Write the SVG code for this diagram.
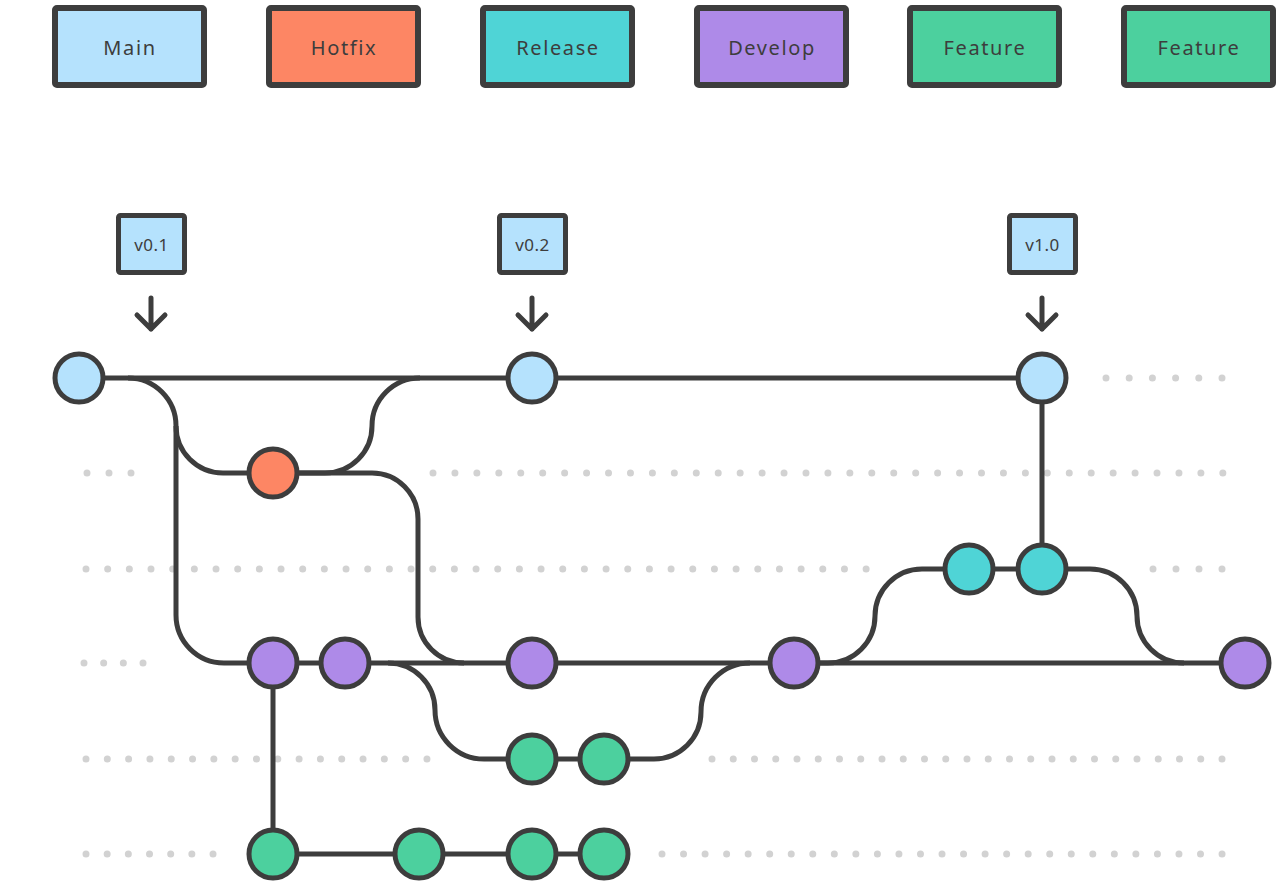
<svg xmlns="http://www.w3.org/2000/svg" width="1280" height="892" viewBox="0 0 1280 892">
<style>
.box{stroke:#3d3d3d;stroke-width:6;stroke-linejoin:round}
.tag{stroke:#3d3d3d;stroke-width:5;stroke-linejoin:round;fill:#b5e2fd}
.lbl{font-family:"Noto Sans","Liberation Sans",sans-serif;font-size:20px;fill:#3d3d3d;text-anchor:middle;letter-spacing:1.6px}
.tl{font-family:"Noto Sans","Liberation Sans",sans-serif;font-size:17px;fill:#3d3d3d;text-anchor:middle;letter-spacing:0.5px}
.c{stroke:#3d3d3d;stroke-width:5}
.ln{fill:none;stroke:#3d3d3d;stroke-width:5}
.arr{fill:none;stroke:#3d3d3d;stroke-width:5;stroke-linecap:round;stroke-linejoin:round}
.dot{stroke:#d2d2d2;stroke-width:7;stroke-linecap:round;fill:none}
.main{fill:#b5e2fd}.hot{fill:#fd8664}.rel{fill:#4fd4d6}.dev{fill:#ae8ae8}.feat{fill:#4cd09e}
</style>
<rect width="1280" height="892" fill="#ffffff"/>
<g id="legend">
<g id="legend-main"><rect class="box main" x="55" y="8" width="149" height="77" rx="2"/><text class="lbl" x="130" y="55">Main</text></g>
<g id="legend-hotfix"><rect class="box hot" x="269" y="8" width="149" height="77" rx="2"/><text class="lbl" x="344" y="55">Hotfix</text></g>
<g id="legend-release"><rect class="box rel" x="483" y="8" width="149" height="77" rx="2"/><text class="lbl" x="558" y="55">Release</text></g>
<g id="legend-develop"><rect class="box dev" x="697" y="8" width="149" height="77" rx="2"/><text class="lbl" x="772" y="55">Develop</text></g>
<g id="legend-feature1"><rect class="box feat" x="910" y="8" width="149" height="77" rx="2"/><text class="lbl" x="985" y="55">Feature</text></g>
<g id="legend-feature2"><rect class="box feat" x="1124" y="8" width="149" height="77" rx="2"/><text class="lbl" x="1199" y="55">Feature</text></g>
</g>
<g id="dots">
<line class="dot" x1="1106" y1="378" x2="1222.3" y2="378" stroke-dasharray="0 23.2"/>
<line class="dot" x1="87" y1="473" x2="131.3" y2="473" stroke-dasharray="0 22"/>
<line class="dot" x1="433" y1="473" x2="1223.3" y2="473" stroke-dasharray="0 21.94"/>
<line class="dot" x1="86" y1="569" x2="866.3" y2="569" stroke-dasharray="0 21.67"/>
<line class="dot" x1="1153" y1="569" x2="1222.3" y2="569" stroke-dasharray="0 23"/>
<line class="dot" x1="84" y1="663" x2="143.3" y2="663" stroke-dasharray="0 19.67"/>
<line class="dot" x1="86" y1="759" x2="427.3" y2="759" stroke-dasharray="0 21.31"/>
<line class="dot" x1="712" y1="759" x2="1222.3" y2="759" stroke-dasharray="0 21.25"/>
<line class="dot" x1="86" y1="854" x2="213.3" y2="854" stroke-dasharray="0 21.17"/>
<line class="dot" x1="662" y1="854" x2="1222.3" y2="854" stroke-dasharray="0 21.54"/>
</g>
<g id="tags">
<g id="tag-v01"><rect class="tag" x="118.5" y="215.5" width="66" height="57" rx="2"/><text class="tl" x="151.5" y="251">v0.1</text><path class="arr" d="M151 298 V329 M137 315 L151 329 L165 315"/></g>
<g id="tag-v02"><rect class="tag" x="499.5" y="215.5" width="66" height="57" rx="2"/><text class="tl" x="532.5" y="251">v0.2</text><path class="arr" d="M532 298 V329 M518 315 L532 329 L546 315"/></g>
<g id="tag-v10"><rect class="tag" x="1009.5" y="215.5" width="66" height="57" rx="2"/><text class="tl" x="1042.5" y="251">v1.0</text><path class="arr" d="M1042 298 V329 M1028 315 L1042 329 L1056 315"/></g>
</g>
<g id="connectors">
<path class="ln" d="M79 378 H1042"/>
<path class="ln" d="M128 378 A48 48 0 0 1 176 426 V615 A48 48 0 0 0 224 663 H1245"/>
<path class="ln" d="M176 426 A47 47 0 0 0 223 473 H273"/>
<path class="ln" d="M273 473 H325 A47 47 0 0 0 372 426 A48 48 0 0 1 420 378"/>
<path class="ln" d="M273 473 H372 A46 46 0 0 1 418 519 V617 A46 46 0 0 0 464 663"/>
<path class="ln" d="M273 663 V854 H604"/>
<path class="ln" d="M388 663 A47 47 0 0 1 435 710 A49 49 0 0 0 484 759 H604 H654 A47 47 0 0 0 701 712 A49 49 0 0 1 750 663"/>
<path class="ln" d="M794 663 H828 A47 47 0 0 0 875 616 A47 47 0 0 1 922 569 H1090 A47 47 0 0 1 1137 616 A47 47 0 0 0 1184 663"/>
<path class="ln" d="M1042 569 V378"/>
</g>
<g id="nodes">
<g id="main-1"><circle class="c main" cx="79" cy="378" r="24"/></g>
<g id="main-2"><circle class="c main" cx="532" cy="378" r="24"/></g>
<g id="main-3"><circle class="c main" cx="1042" cy="378" r="24"/></g>
<g id="hotfix-1"><circle class="c hot" cx="273" cy="473" r="24"/></g>
<g id="release-1"><circle class="c rel" cx="969" cy="569" r="24"/></g>
<g id="release-2"><circle class="c rel" cx="1042" cy="569" r="24"/></g>
<g id="develop-1"><circle class="c dev" cx="273" cy="663" r="24"/></g>
<g id="develop-2"><circle class="c dev" cx="345" cy="663" r="24"/></g>
<g id="develop-3"><circle class="c dev" cx="532" cy="663" r="24"/></g>
<g id="develop-4"><circle class="c dev" cx="794" cy="663" r="24"/></g>
<g id="develop-5"><circle class="c dev" cx="1245" cy="663" r="24"/></g>
<g id="feature1-1"><circle class="c feat" cx="532" cy="759" r="24"/></g>
<g id="feature1-2"><circle class="c feat" cx="604" cy="759" r="24"/></g>
<g id="feature2-1"><circle class="c feat" cx="273" cy="854" r="24"/></g>
<g id="feature2-2"><circle class="c feat" cx="419" cy="854" r="24"/></g>
<g id="feature2-3"><circle class="c feat" cx="532" cy="854" r="24"/></g>
<g id="feature2-4"><circle class="c feat" cx="604" cy="854" r="24"/></g>
</g>
</svg>
